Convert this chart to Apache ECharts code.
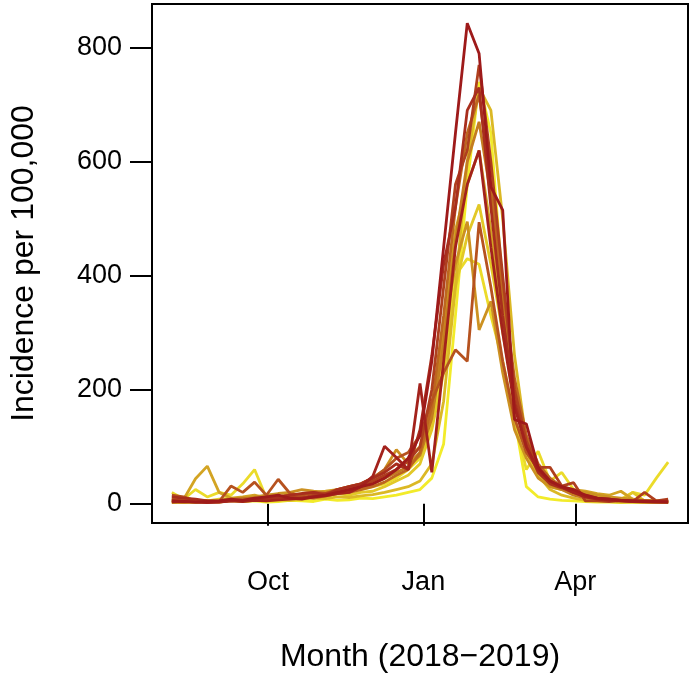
<!DOCTYPE html>
<html>
<head>
<meta charset="utf-8">
<script src="https://cdn.jsdelivr.net/npm/echarts@6/dist/echarts.min.js"></script>
<style>
html,body{margin:0;padding:0;background:#fff;}
#chart{width:693px;height:681px;}
</style>
</head>
<body>
<div id="chart"></div>
<script>
// Weekly dates (start of week), Aug 2018 - May 2019
const startDate = '2018-08-05';
const nWeeks = 43;

// Tick labels for the x axis
const xTickDates = ['2018-10-01', '2019-01-01', '2019-04-01'];
const xTickLabels = ['Oct', 'Jan', 'Apr'];
const yTickValues = [0, 200, 400, 600, 800];

// Incidence per 100,000, one array per season (yellow -> dark red)
const s0  = [3,2,4,3,5,6,4,5,3,4,6,5,4,8,6,7,10,9,12,15,20,25,45,105,330,560,740,650,380,150,30,12,8,6,5,4,3,3,2,3,2,3,2];
const s1  = [20,8,25,12,20,15,35,60,10,8,12,10,15,12,18,20,25,30,35,45,60,80,140,260,400,430,420,330,250,150,60,92,40,55,25,18,12,10,8,20,15,45,73];
const s2  = [5,4,6,5,8,10,7,9,8,12,15,10,12,15,18,15,20,22,30,40,50,70,130,230,380,470,525,420,300,180,90,50,30,25,18,15,10,8,6,20,5,4,3];
const s3  = [2,3,2,4,3,5,4,6,5,7,6,8,10,9,12,11,14,16,20,25,30,40,70,180,380,600,730,690,500,260,110,50,25,15,10,6,5,4,3,3,2,2,2];
const s4  = [5,8,44,66,20,10,12,15,10,12,15,18,20,22,25,28,30,35,45,60,80,100,170,300,480,560,620,480,320,190,100,55,35,30,25,22,18,15,22,8,6,5,4];
const s5  = [8,6,5,4,6,8,10,12,15,18,20,25,22,20,25,30,35,45,60,95,70,90,160,300,420,495,305,355,230,130,80,45,30,25,22,20,15,12,10,8,6,5,4];
const s6  = [4,3,5,6,5,8,10,8,12,10,14,16,18,15,20,22,28,35,45,55,65,85,150,280,460,600,670,540,360,200,110,60,35,25,15,10,8,6,5,4,4,3,3];
const s7  = [10,8,5,4,3,6,8,10,8,12,15,12,10,14,18,20,25,30,38,50,60,90,170,330,520,650,717,560,380,220,120,70,45,30,20,12,8,6,5,4,3,3,3];
const s8  = [15,12,5,3,4,31,20,38,15,43,18,15,20,18,25,30,35,45,60,80,90,120,180,230,270,250,494,380,250,150,90,60,40,30,20,12,10,8,6,5,5,4,4];
const s9  = [6,5,4,3,4,5,6,8,10,8,12,10,15,18,20,25,30,40,50,60,75,100,200,380,560,620,770,600,400,200,110,64,64,31,37,5,5,4,6,4,20,5,8];
const s10 = [12,10,8,5,4,6,5,8,10,12,15,18,20,15,25,30,35,45,55,70,60,130,260,420,520,690,730,520,330,180,100,55,35,28,20,15,10,8,6,5,5,4,5];
const s11 = [3,4,3,2,3,5,4,6,5,7,8,10,12,14,18,20,30,48,101,81,60,211,55,250,450,560,620,450,300,170,100,60,40,30,20,12,8,6,5,4,4,3,3];
const s12 = [5,4,3,4,5,8,6,10,12,15,10,8,12,15,20,25,30,35,45,60,80,120,250,450,650,843,790,556,515,148,140,64,40,30,25,15,10,8,6,5,4,4,3];

const seasons = [s0,s1,s2,s3,s4,s5,s6,s7,s8,s9,s10,s11,s12];
const colors = ['#F2EB2A','#EBDB2A','#E2C827','#DBB825','#D3A423','#CC9121','#C47C20',
                '#BD661F','#B6521F','#AF3F1E','#A82E1D','#A3221C','#9E1A1A'];

const DAY = 86400000;
const t0 = Date.parse(startDate);
const weekTimes = [];
for (let i = 0; i < nWeeks; i++) weekTimes.push(t0 + i * 7 * DAY);
const span = weekTimes[nWeeks - 1] - weekTimes[0];
const xMin = weekTimes[0] - 0.04 * span;
const xMax = weekTimes[nWeeks - 1] + 0.04 * span;
const yMaxData = 843;
const yMin = -0.04 * yMaxData;
const yMax = yMaxData * 1.04;

const xTickTimes = xTickDates.map(d => Date.parse(d));
const font = 'Liberation Sans, Arial, Helvetica, sans-serif';

const chart = echarts.init(document.getElementById('chart'), null, {renderer: 'canvas'});
chart.setOption({
  animation: false,
  backgroundColor: '#fff',
  grid: {left: 150, right: 5, top: 4, bottom: 158, show: true, borderColor: '#000', borderWidth: 2, backgroundColor: 'transparent'},
  xAxis: {
    type: 'value',
    min: xMin, max: xMax,
    name: 'Month (2018\u22122019)',
    nameLocation: 'middle',
    nameGap: 118,
    nameTextStyle: {fontFamily: font, fontSize: 32, color: '#000'},
    axisLine: {show: false},
    splitLine: {show: false},
    axisTick: {show: true, length: 22, inside: false, lineStyle: {color: '#000', width: 2}, customValues: xTickTimes},
    axisLabel: {
      show: true, margin: 46, fontFamily: font, fontSize: 27, color: '#000',
      customValues: xTickTimes,
      formatter: function (v) {
        let best = 0, bd = Infinity;
        xTickTimes.forEach((t, i) => { const d = Math.abs(t - v); if (d < bd) { bd = d; best = i; } });
        return xTickLabels[best];
      }
    }
  },
  yAxis: {
    type: 'value',
    min: yMin, max: yMax,
    name: 'Incidence per 100,000',
    nameLocation: 'middle',
    nameGap: 112,
    nameRotate: 90,
    nameTextStyle: {fontFamily: font, fontSize: 32, color: '#000'},
    axisLine: {show: false},
    splitLine: {show: false},
    axisTick: {show: true, length: 22, lineStyle: {color: '#000', width: 2}, customValues: yTickValues},
    axisLabel: {show: true, margin: 30, fontFamily: font, fontSize: 27, color: '#000', customValues: yTickValues,
      formatter: v => String(Math.round(v))}
  },
  series: seasons.map((s, k) => ({
    type: 'line',
    data: s.map((v, i) => [weekTimes[i], v]),
    showSymbol: false,
    symbol: 'none',
    silent: true,
    lineStyle: {color: colors[k], width: 2.8},
    z: 2 + k
  }))
});
</script>
</body>
</html>
